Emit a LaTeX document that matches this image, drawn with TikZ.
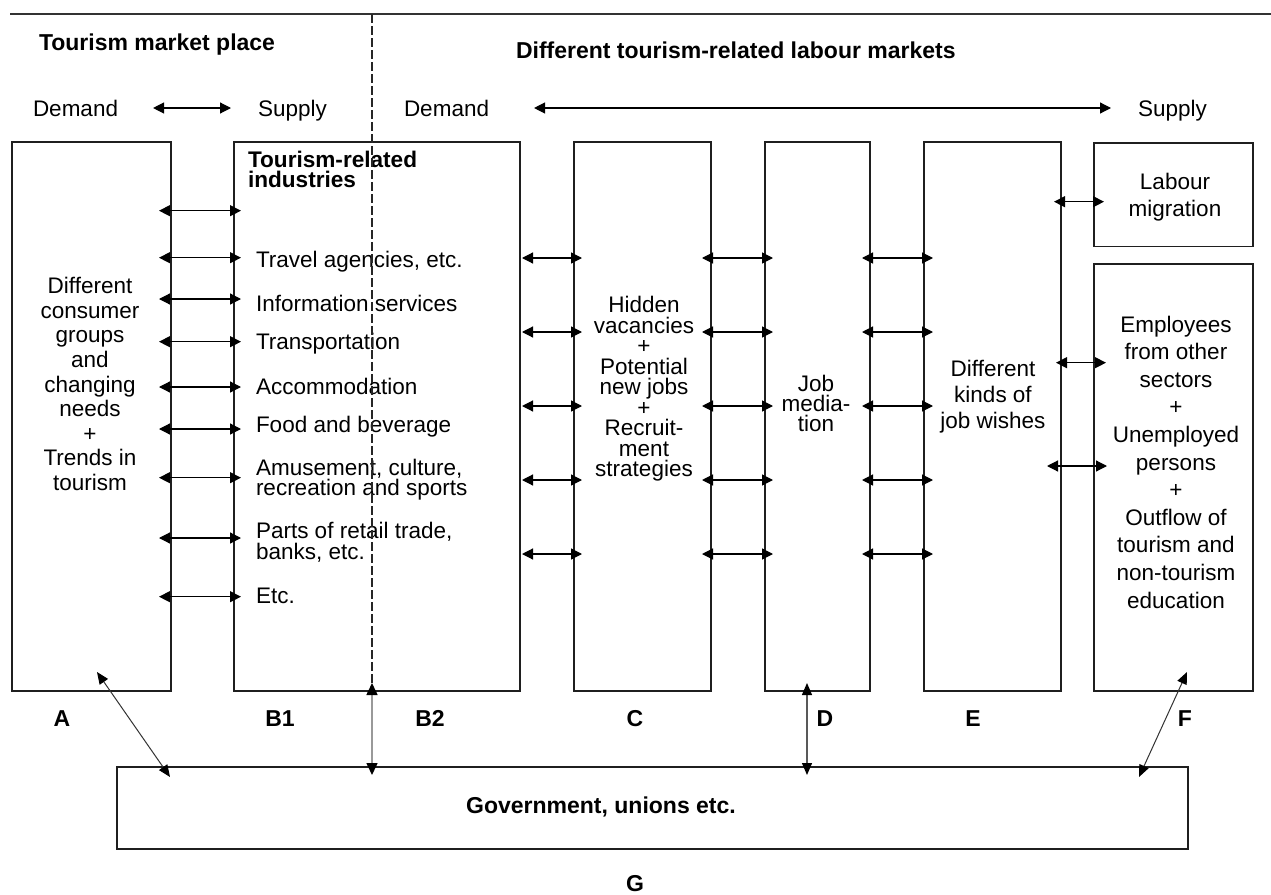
\documentclass[tikz,border=0pt]{standalone}
\usepackage{fontspec}
\setmainfont{Liberation Sans}
\usetikzlibrary{arrows.meta,calc}
\begin{document}
\begin{tikzpicture}[x=1bp,y=-1bp,
  panel/.style={draw=black!88, line width=1.4bp, inner sep=0, outer sep=0},
  link/.style={line width=1.2bp, {Triangle[length=11bp,width=11bp]}-{Triangle[length=11bp,width=11bp]}},
  thinlink/.style={line width=1bp, draw=black!80, {Triangle[length=12bp,width=10bp,color=black,fill=black]}-{Triangle[length=12bp,width=10bp,color=black,fill=black]}},
  greylink/.style={line width=1.6bp, draw=black!40, {Triangle[length=12bp,width=11bp,color=black,fill=black]}-{Triangle[length=12bp,width=11bp,color=black,fill=black]}},
  body/.style={inner sep=0, outer sep=0, align=center, font=\fontsize{22.5bp}{#1}\selectfont},
  body/.default=24bp,
  item/.style={inner sep=0, outer sep=0, anchor=west, align=left, font=\fontsize{22.5bp}{20.5bp}\selectfont},
  plain/.style={inner sep=0, outer sep=0, anchor=base west, font=\fontsize{22.5bp}{24bp}\selectfont},
  heading/.style={inner sep=0, outer sep=0, font=\fontsize{23bp}{23bp}\selectfont\bfseries},
  tag/.style={inner sep=0, outer sep=0, anchor=base, font=\fontsize{23bp}{23bp}\selectfont\bfseries},
  splitline/.style={line width=1.2bp, black!85, dash pattern=on 9bp off 3bp}
]
\fill[white] (0,0) rectangle (1271,895);
\useasboundingbox (0,0) rectangle (1271,895);

% top rule and the market / labour-market divider
\coordinate (ruleL) at (10,14);
\coordinate (ruleR) at (1271,14);
\coordinate (split) at (372,14);
\draw[line width=1.4bp, black!80] (ruleL) -- (ruleR);

% headings
\node[heading, anchor=west] (mkt) at (39,45) {Tourism market place};
\node[heading, anchor=west] (lab) at (516,50) {Different tourism-related labour markets};

% demand / supply row
\node[plain] (dem1) at (33,116) {Demand};
\node[plain] (sup1) at (258,116) {Supply};
\node[plain] (dem2) at (404,116) {Demand};
\node[plain] (sup2) at (1138,116) {Supply};
\draw[link] ($(dem1.east |- 0,108)+(35,0)$) -- ($(sup1.west |- 0,108)+(-27,0)$);
\draw[link] ($(dem2.east |- 0,108)+(45,0)$) -- ($(sup2.west |- 0,108)+(-27,0)$);

% boxes
\node[panel, minimum width=159bp, minimum height=549bp] (A) at (91.5,416.5) {};
\node[panel, minimum width=286bp, minimum height=549bp] (B) at (377,416.5) {};
\node[panel, minimum width=137bp, minimum height=549bp] (C) at (642.5,416.5) {};
\node[panel, minimum width=105bp, minimum height=549bp] (D) at (817.5,416.5) {};
\node[panel, minimum width=137bp, minimum height=549bp] (E) at (992.5,416.5) {};
\node[panel, minimum width=159bp, minimum height=103.5bp] (LM) at (1173.5,194.75) {};
\node[panel, minimum width=159bp, minimum height=427bp] (F) at (1173.5,477.5) {};
\node[panel, minimum width=1071bp, minimum height=82bp] (G) at (652.5,808) {};

% box texts
\node[body=24.6bp] (Atext) at (90,384) {Different\\consumer\\groups\\and\\changing\\needs\\+\\Trends in\\tourism};
\node[heading, anchor=north west, align=left, font=\fontsize{22.6bp}{20.5bp}\selectfont\bfseries] (Btitle) at (248,151) {Tourism-related\\industries};
\node[item] (b1) at (256,261.5) {Travel agencies, etc.};
\node[item] (b2) at (256,303) {Information services};
\node[item] (b3) at (256,344) {Transportation};
\node[item] (b4) at (256,386.5) {Accommodation};
\node[item] (b5) at (256,427) {Food and beverage};
\node[item] (b6) at (256,479.5) {Amusement, culture,\\recreation and sports};
\node[item] (b7) at (256,542.5) {Parts of retail trade,\\banks, etc.};
\node[item] (b8) at (256,596) {Etc.};
\node[body=20.5bp] (Ctext) at (644,389) {Hidden\\vacancies\\+\\Potential\\new jobs\\+\\Recruit-\\ment\\strategies};
\node[body=20bp] (Dtext) at (816,403) {Job\\media-\\tion};
\node[body=26bp] (Etext) at (993,397) {Different\\kinds of\\job wishes};
\node[body=27bp] (LMtext) at (1175,197) {Labour\\migration};
\node[body=27.6bp] (Ftext) at (1176,462) {Employees\\from other\\sectors\\+\\Unemployed\\persons\\+\\Outflow of\\tourism and\\non-tourism\\education};
\node[heading] (Gtext) at (601,807) {Government, unions etc.};

% letters
\node[tag] (lA) at (62,726) {A};
\node[tag] (lB1) at (280,726) {B1};
\node[tag] (lB2) at (430,726) {B2};
\node[tag] (lC) at (635,726) {C};
\node[tag] (lD) at (825,726) {D};
\node[tag] (lE) at (973,726) {E};
\node[tag] (lF) at (1185,726) {F};
\node[tag] (lG) at (635,891) {G};

% divider through B
\draw[splitline] (split) -- ($(split |- B.south)+(0,-8)$);

% horizontal links
\foreach \y in {210.7,257.7,299,341.7,387,429,477.7,538,596.7}
  \draw[link] ($(A.east |- 0,\y)+(-12,0)$) -- ($(B.west |- 0,\y)+(7,0)$);
\foreach \y in {258,332,406,480,554}{
  \draw[link] ($(B.east |- 0,\y)+(2,0)$) -- ($(C.west |- 0,\y)+(8,0)$);
  \draw[link] ($(C.east |- 0,\y)+(-9,0)$) -- ($(D.west |- 0,\y)+(8,0)$);
  \draw[link] ($(D.east |- 0,\y)+(-8,0)$) -- ($(E.west |- 0,\y)+(9,0)$);
}
\draw[link] ($(E.east |- 0,201.7)+(-7,0)$) -- ($(LM.west |- 0,201.7)+(10,0)$);
\draw[link] ($(E.east |- 0,362.7)+(-5,0)$) -- ($(F.west |- 0,362.7)+(12,0)$);
\draw[link] ($(E.east |- 0,466)+(-14,0)$) -- ($(F.west |- 0,466)+(13,0)$);

% links to government box
\draw[thinlink] ($(A.south)+(5.5,-19)$) -- ($(G.north west)+(53,10)$);
\draw[greylink] ($(split |- B.south)+(0,-8)$) -- ($(split |- G.north)+(0,8)$);
\draw[thinlink, draw=black!65, line width=1.3bp] ($(D.south)+(-10.5,-8)$) -- ($(G.north -| D.south)+(-10.5,8)$);
\draw[thinlink] ($(F.south)+(13.5,-19)$) -- ($(G.north east)+(-49,10)$);
\end{tikzpicture}
\end{document}
